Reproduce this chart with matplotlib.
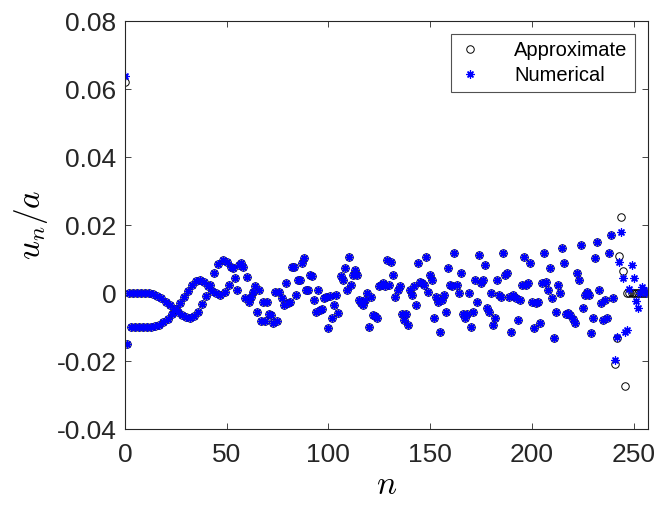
import numpy as np
import matplotlib
matplotlib.use("Agg")
from matplotlib import pyplot as plt

plt.rcParams['font.family'] = ['Liberation Sans', 'DejaVu Sans']
plt.rcParams['mathtext.fontset'] = 'cm'

# approximate solution u_n/a, n = 0..256
approx = [
    0.062, -0.015,
    # n = 2..51, two interleaved branches
    0.0, -0.010, 0.0, -0.010, 0.0, -0.010, 0.0, -0.010, 0.0, -0.010,
    0.0, -0.010, -0.0003, -0.0097, -0.0008, -0.0092, -0.0015, -0.0085, -0.0025, -0.0075,
    -0.0035, -0.0062, -0.0045, -0.0047, -0.0055, -0.0030, -0.0063, -0.0012, -0.0070, 0.0008,
    -0.0074, 0.0024, -0.0068, 0.0035, -0.0055, 0.0038, -0.0033, 0.0032, -0.0008, 0.0020,
    0.0025, 0.0008, 0.0060, 0.0, 0.0085, -0.0005, 0.0097, 0.0005, 0.0092, 0.0024,
    # n = 52..240
    0.0078, 0.0073, 0.0044, 0.0009, 0.0082, 0.0088, 0.0077, -0.0015, 0.0048, -0.0025,
    -0.0010, 0.0005, 0.0020, -0.0054, 0.0010, -0.0083, -0.0025, -0.0083, -0.0025, -0.0060,
    -0.0064, -0.0088, 0.0005, -0.0083, 0.0005, -0.0015, -0.0034, 0.0030, -0.0030, -0.0025,
    0.0078, 0.0078, -0.0005, 0.0040, 0.0040, 0.0088, 0.0103, 0.0010, 0.0010, 0.0054,
    0.0050, -0.0020, -0.0055, 0.0010, -0.0050, -0.0045, -0.0015, -0.0010, -0.0103, -0.0008,
    -0.0073, -0.0034, -0.0005, -0.0059, 0.0050, 0.0040, 0.0073, 0.0010, 0.0108, 0.0024,
    0.0055, 0.0068, 0.0054, -0.0020, -0.0028, -0.0034, -0.0020, 0.0, -0.0098, -0.0010,
    -0.0064, -0.0068, -0.0073, 0.0020, 0.0025, 0.0030, 0.0020, 0.0098, 0.0025, 0.0093,
    0.0054, -0.0010, 0.0010, 0.0020, -0.0060, -0.0080, -0.0060, -0.0093, 0.0010, -0.0005,
    0.0020, -0.0034, 0.0088, 0.0034, 0.0030, 0.0025, 0.0108, 0.0005, 0.0054, 0.0040,
    -0.0073, -0.0010, -0.0025, -0.0113, -0.0020, -0.0005, -0.0054, 0.0073, 0.0025, 0.0020,
    0.0117, 0.0025, 0.0, 0.0059, -0.0060, -0.0073, -0.0060, 0.0, -0.0098, -0.0054,
    0.0040, -0.0025, 0.0113, 0.0030, 0.0040, 0.0083, -0.0044, -0.0054, 0.0, -0.0093,
    -0.0073, 0.0040, -0.0005, -0.0010, 0.0117, 0.0054, 0.0059, -0.0010, -0.0113, -0.0005,
    -0.0015, -0.0078, -0.0020, 0.0025, 0.0108, 0.0025, 0.0030, 0.0088, -0.0025, -0.0103,
    -0.0030, -0.0025, -0.0088, 0.0030, 0.0117, 0.0034, 0.0010, 0.0073, -0.0015, -0.0132,
    -0.0054, 0.0024, 0.0, 0.0132, 0.0088, -0.0060, -0.0058, -0.0065, -0.0075, -0.0088,
    0.0059, 0.0040, 0.0142, -0.0044, -0.0005, 0.0005, -0.0005, -0.0117, -0.0073, 0.0103,
    0.0152, 0.0010, -0.0030, -0.0078, -0.0020, -0.0073, 0.0117, 0.0171, -0.0015,
    # n = 241..256
    -0.0209, -0.0133, 0.0110, 0.0223, 0.0065, -0.0273, 0.0, 0.0,
    0.0, 0.0, 0.0, 0.0, 0.0, 0.0, 0.0, 0.0,
]

# numerical solution differs from the approximate one at n = 0 and in the tail
numerical = list(approx)
numerical[0] = 0.064
numerical[241:] = [
    -0.0197, -0.0128, 0.0092, 0.0180, 0.0046, -0.0115, -0.0108, 0.0012,
    0.0082, 0.0045, -0.0024, -0.0043, 0.0, 0.0017, 0.0010, 0.0,
]

n = np.arange(len(approx))

fig = plt.figure(figsize=(6.57, 5.05), dpi=100)
ax = fig.add_axes([0.190, 0.150, 0.796, 0.808])

ax.plot(n, approx, 'o', mfc='none', mec='k', ms=5.4, mew=0.7, label='Approximate')
ax.plot(n, numerical, ls='none', marker=(8, 2, 0), color='b', ms=5.8, mew=0.9,
        label='Numerical')

ax.set_xlim(0, 257)
ax.set_ylim(-0.04, 0.08)
ax.set_xticks([0, 50, 100, 150, 200, 250])
yt = [-0.04, -0.02, 0, 0.02, 0.04, 0.06, 0.08]
ax.set_yticks(yt)
ax.set_yticklabels(['-0.04', '-0.02', '0', '0.02', '0.04', '0.06', '0.08'])

axcol = (0.15, 0.15, 0.15)
ax.tick_params(direction='in', top=True, right=True, length=4, width=0.6,
               labelsize=19, colors=axcol)
ax.tick_params(axis='x', pad=10)
ax.tick_params(axis='y', pad=6)
for s in ax.spines.values():
    s.set_color(axcol)
    s.set_linewidth(0.8)

ax.set_xlabel('$n$', fontsize=24, labelpad=2)
ax.set_ylabel('$u_n/a$', fontsize=24, labelpad=5)

leg = ax.legend(loc='upper right', fontsize=14.5, frameon=True, fancybox=False,
                edgecolor=axcol, handlelength=1.2, handletextpad=1.6,
                borderpad=0.35, borderaxespad=0, labelspacing=0.3,
                bbox_to_anchor=(0.975, 0.968))
leg.get_frame().set_linewidth(0.8)

fig.savefig('out.png', dpi=100)
